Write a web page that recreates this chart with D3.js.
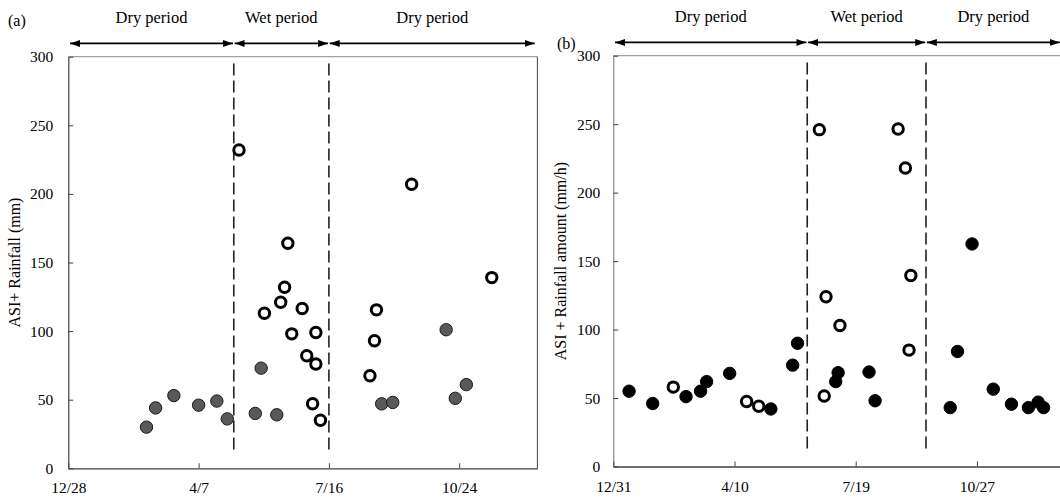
<!DOCTYPE html>
<html><head><meta charset="utf-8">
<script src="https://cdn.jsdelivr.net/npm/d3@7"></script>
<style>
body{margin:0;background:#fff}
svg{display:block}
text{font-family:"Liberation Serif","Times New Roman",serif;fill:#000}
</style>
</head><body><svg id="c" width="1060" height="497"></svg>
<script>
// ---------- DATA ----------
const yTicks = [0, 50, 100, 150, 200, 250, 300];

// Panel (a): x = days since 12/28
const aTickDays = [0, 100, 200, 300];
const aTickLabels = ["12/28", "4/7", "7/16", "10/24"];
const aPeriodBounds = [127, 200];
const aPeriodLabels = ["Dry period", "Wet period", "Dry period"];
const aFilledDay = [60, 67, 81, 100, 114, 122, 148, 143.5, 160, 240.5, 249, 290, 297, 305.5];
const aFilledVal = [30, 44, 53, 46, 49, 36, 73, 40, 39, 47, 48, 101, 51, 61];
const aOpenDay = [131, 168.5, 166, 163, 150.5, 179.5, 171.5, 190, 183, 190, 187.5, 193.5, 236.5, 235, 231.5, 263.5, 325];
const aOpenVal = [232, 164, 132, 121, 113, 116.5, 98, 99, 82, 76, 47, 35, 115.5, 93, 67.5, 207, 139];

// Panel (b): x = days since 12/31
const bTickDays = [0, 100, 200, 300];
const bTickLabels = ["12/31", "4/10", "7/19", "10/27"];
const bPeriodBounds = [160, 258];
const bPeriodLabels = ["Dry period", "Wet period", "Dry period"];
const bFilledDay = [13, 32.5, 60, 72, 77, 96, 130, 148, 152, 185.5, 183.5, 211, 216, 278, 284, 296, 313.5, 328.5, 342.5, 350.5, 355];
const bFilledVal = [55, 46, 51, 55, 62, 68, 42, 74, 90, 68.5, 62, 69, 48, 43, 84, 162.5, 56.5, 45.5, 43, 47, 43];
const bOpenDay = [49.5, 110, 120, 170, 175.5, 174, 187, 235, 241, 245.5, 244];
const bOpenVal = [58, 47.5, 44, 246, 124, 51.5, 103, 246.5, 218, 139.5, 85];

// ---------- LAYOUT ----------
const svg = d3.select("#c");
const defs = svg.append("defs");
function mk(id, d) {
  defs.append("marker").attr("id", id).attr("viewBox", "0 0 10 8")
    .attr("refX", d === "end" ? 10 : 0).attr("refY", 4)
    .attr("markerWidth", 10).attr("markerHeight", 8).attr("markerUnits", "userSpaceOnUse")
    .attr("orient", "0")
    .append("path").attr("d", d === "end" ? "M0,0.5L10,4L0,7.5Z" : "M10,0.5L0,4L10,7.5Z").attr("fill", "#000");
}
mk("ah-end", "end"); mk("ah-start", "start");

const panels = [
  {left: 68.3, top: 56.7, bottom: 468.3, pxPerDay: 1.303, xMax: 360, arrowStart: 1.3, arrowEnd: 358,
   ticks: aTickDays, labels: aTickLabels, bounds: aPeriodBounds, plabels: aPeriodLabels,
   fx: aFilledDay, fy: aFilledVal, ox: aOpenDay, oy: aOpenVal,
   filledFill: "#595959", filledStroke: "#1a1a1a",
   tag: "(a)", tagX: 8, tagY: 26, title: "ASI+ Rainfall (mm)", titleX: 20, tickPad: 15, leftAxisColor: "#404040"},
  {left: 613.3, top: 55.7, bottom: 466.5, pxPerDay: 1.212, xMax: 372, arrowStart: 1.4, arrowEnd: 368.5,
   ticks: bTickDays, labels: bTickLabels, bounds: bPeriodBounds, plabels: bPeriodLabels,
   fx: bFilledDay, fy: bFilledVal, ox: bOpenDay, oy: bOpenVal,
   filledFill: "#000", filledStroke: "#000",
   tag: "(b)", tagX: 557, tagY: 49, title: "ASI + Rainfall amount (mm/h)", titleX: 566, tickPad: 13, leftAxisColor: "#8a8a8a"}
];

panels.forEach(p => {
  const right = p.left + p.xMax * p.pxPerDay;
  const x = d3.scaleLinear().domain([0, p.xMax]).range([p.left, right]);
  const y = d3.scaleLinear().domain([0, 300]).range([p.bottom, p.top]);
  const g = svg.append("g");

  // top & right frame
  g.append("line").attr("x1", p.left).attr("x2", right).attr("y1", y(300)).attr("y2", y(300))
    .attr("stroke", "#8a8a8a").attr("stroke-width", 1);
  g.append("line").attr("x1", right).attr("x2", right).attr("y1", y(300)).attr("y2", y(0))
    .attr("stroke", "#404040").attr("stroke-width", 1);

  // y axis
  const ya = g.append("g").attr("transform", `translate(${p.left},0)`)
    .call(d3.axisLeft(y).tickValues(yTicks).tickSizeInner(-5).tickSizeOuter(0).tickPadding(p.tickPad));
  ya.select(".domain").attr("stroke", p.leftAxisColor).attr("stroke-width", 1.2);
  ya.selectAll(".tick line").attr("stroke", "#404040");
  ya.selectAll(".tick text").attr("font-family", "Liberation Serif, serif").attr("font-size", 15.5).attr("fill", "#000");

  // x axis
  const xa = g.append("g").attr("transform", `translate(0,${p.bottom})`)
    .call(d3.axisBottom(x).tickValues(p.ticks).tickFormat((d, i) => p.labels[i]).tickSizeInner(-5).tickSizeOuter(0).tickPadding(14));
  xa.select(".domain").attr("stroke", "#404040").attr("stroke-width", 1.3);
  xa.selectAll(".tick line").attr("stroke", "#404040");
  xa.selectAll(".tick text").attr("font-family", "Liberation Serif, serif").attr("font-size", 15.5).attr("fill", "#000");

  // dashed period boundaries
  g.selectAll(".bd").data(p.bounds).join("line")
    .attr("x1", d => x(d)).attr("x2", d => x(d)).attr("y1", y(295)).attr("y2", y(10))
    .attr("stroke", "#222").attr("stroke-width", 1.6).attr("stroke-dasharray", "12,5");

  // arrows
  const edges = [p.arrowStart, ...p.bounds, p.arrowEnd];
  const arrowY = p.top - 13.3;
  for (let i = 0; i < edges.length - 1; i++) {
    const x1 = x(edges[i]) + (i === 0 ? 0 : 0.8), x2 = x(edges[i + 1]) - (i === edges.length - 2 ? 0 : 0.8);
    g.append("line").attr("x1", x1).attr("x2", x2).attr("y1", arrowY).attr("y2", arrowY)
      .attr("stroke", "#000").attr("stroke-width", 1.6)
      .attr("marker-start", "url(#ah-start)").attr("marker-end", "url(#ah-end)");
    g.append("text").attr("x", (x1 + x2) / 2).attr("y", arrowY - 20).attr("text-anchor", "middle")
      .attr("font-size", 16.5).text(p.plabels[i]);
  }

  // points
  g.selectAll(".f").data(p.fx).join("circle")
    .attr("cx", d => x(d)).attr("cy", (d, i) => y(p.fy[i])).attr("r", 6.2)
    .attr("fill", p.filledFill).attr("stroke", p.filledStroke).attr("stroke-width", 1);
  g.selectAll(".o").data(p.ox).join("circle")
    .attr("cx", d => x(d)).attr("cy", (d, i) => y(p.oy[i])).attr("r", 5.2)
    .attr("fill", "#fff").attr("stroke", "#000").attr("stroke-width", 3);

  // tag and y title
  g.append("text").attr("x", p.tagX).attr("y", p.tagY).attr("font-size", 16).text(p.tag);
  g.append("text").attr("transform", `translate(${p.titleX},${(p.top + p.bottom) / 2}) rotate(-90)`)
    .attr("text-anchor", "middle").attr("font-size", 16).text(p.title);
});
</script>
</body></html>
